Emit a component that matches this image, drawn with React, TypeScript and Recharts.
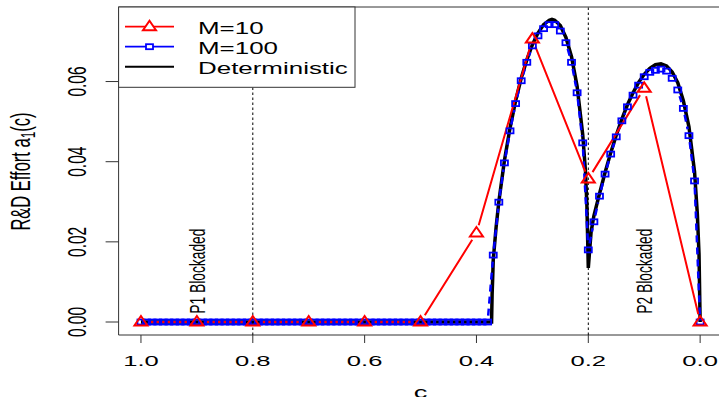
import React from 'react';
import { LineChart, Line, XAxis, YAxis, ReferenceLine, ReferenceArea, ReferenceDot } from 'recharts';

const FONT = '"Liberation Sans", Arial, Helvetica, sans-serif';
const SX = 1.65;

// ---- data ----
const c10 = [1.0, 0.9, 0.8, 0.7, 0.6, 0.5, 0.4, 0.3, 0.2, 0.1, 0.0];
const v10 = [0, 0, 0, 0, 0, 0, 0.0222, 0.0706, 0.0357, 0.0583, 0];

const c100 = [
  1.0, 0.99, 0.98, 0.97, 0.96, 0.95, 0.94, 0.93, 0.92, 0.91,
  0.9, 0.89, 0.88, 0.87, 0.86, 0.85, 0.84, 0.83, 0.82, 0.81,
  0.8, 0.79, 0.78, 0.77, 0.76, 0.75, 0.74, 0.73, 0.72, 0.71,
  0.7, 0.69, 0.68, 0.67, 0.66, 0.65, 0.64, 0.63, 0.62, 0.61,
  0.6, 0.59, 0.58, 0.57, 0.56, 0.55, 0.54, 0.53, 0.52, 0.51,
  0.5, 0.49, 0.48, 0.47, 0.46, 0.45, 0.44, 0.43, 0.42, 0.41,
  0.4, 0.39, 0.38, 0.37, 0.36, 0.35, 0.34, 0.33, 0.32, 0.31,
  0.3, 0.29, 0.28, 0.27, 0.26, 0.25, 0.24, 0.23, 0.22, 0.21,
  0.2, 0.19, 0.18, 0.17, 0.16, 0.15, 0.14, 0.13, 0.12, 0.11,
  0.1, 0.09, 0.08, 0.07, 0.06, 0.05, 0.04, 0.03, 0.02, 0.01,
  0.0,
];
const v100 = [
  0, 0, 0, 0, 0, 0, 0, 0, 0, 0,
  0, 0, 0, 0, 0, 0, 0, 0, 0, 0,
  0, 0, 0, 0, 0, 0, 0, 0, 0, 0,
  0, 0, 0, 0, 0, 0, 0, 0, 0, 0,
  0, 0, 0, 0, 0, 0, 0, 0, 0, 0,
  0, 0, 0, 0, 0, 0, 0, 0, 0, 0,
  0, 0, 0, 0.0167, 0.0299, 0.0397, 0.0477, 0.0545, 0.0602, 0.0648,
  0.0689, 0.0714, 0.0732, 0.0742, 0.0742, 0.0726, 0.0697, 0.0648, 0.0572, 0.0447,
  0.018, 0.025, 0.0314, 0.0369, 0.0419, 0.0462, 0.0502, 0.0537, 0.0566, 0.0591,
  0.0612, 0.0623, 0.0628, 0.0631, 0.0626, 0.0608, 0.0579, 0.0533, 0.0465, 0.0352,
  0,
];

const detC = [1.0, 0.373, 0.372, 0.371, 0.37, 0.365, 0.36, 0.35, 0.34, 0.33, 0.32, 0.31, 0.3, 0.29, 0.28, 0.27, 0.265, 0.26, 0.25, 0.24, 0.23, 0.22, 0.21, 0.205, 0.2025, 0.2, 0.195, 0.19, 0.18, 0.17, 0.16, 0.15, 0.14, 0.13, 0.12, 0.11, 0.1, 0.09, 0.08, 0.07, 0.06, 0.05, 0.04, 0.03, 0.02, 0.01, 0.005, 0.002, 0.0];
const detV = [0, 0, 0.007, 0.011, 0.0155, 0.0235, 0.03, 0.0403, 0.0484, 0.0552, 0.0608, 0.0654, 0.0692, 0.0721, 0.0742, 0.0753, 0.0755, 0.0753, 0.074, 0.071, 0.0662, 0.0588, 0.0468, 0.0375, 0.029, 0.0135, 0.0225, 0.0265, 0.032, 0.0373, 0.0422, 0.0466, 0.0506, 0.0542, 0.0572, 0.0598, 0.0618, 0.0633, 0.0642, 0.0644, 0.0639, 0.0624, 0.0597, 0.0552, 0.0487, 0.0375, 0.027, 0.017, 0];

const xTicks = [0, 0.2, 0.4, 0.6, 0.8, 1.0];
const yTicks = [0, 0.02, 0.04, 0.06];
const xDomain = [-0.04, 1.04];
const yDomain = [-0.00324, 0.0786];
const dividers = [0.8, 0.2];
const notes = [
  { c: 0.9, v: 0.0127, text: 'P1 Blockaded' },
  { c: 0.1, v: 0.0127, text: 'P2 Blockaded' },
];
const legendItems = [
  { label: 'M=10', color: '#FF0000', marker: 'tri' },
  { label: 'M=100', color: '#0000FF', marker: 'sq' },
  { label: 'Deterministic', color: '#000000', marker: 'none' },
];

const d10 = c10.map((c, i) => ({ c, v: v10[i] }));
const d100 = c100.map((c, i) => ({ c, v: v100[i] }));
const dDet = detC.map((c, i) => ({ c, v: detV[i] }));

const W = 740;
const H = 397;
const PLOT = { left: 118.6, right: 722.5, top: 7, bottom: 335 };

// Dash pattern reproducing R's type="b" (lines broken around each point).
// Uses the same linear geometry as the chart's plot area to measure segment lengths.
function gappedDash(cs: number[], vs: number[], gap: number, on: number, off: number) {
  const kx = (PLOT.right - PLOT.left) / (xDomain[1] - xDomain[0]);
  const ky = (PLOT.bottom - PLOT.top) / (yDomain[1] - yDomain[0]);
  const out: number[] = [0];
  let gapAcc = 0;
  for (let i = 0; i < cs.length - 1; i++) {
    const dx = (cs[i + 1] - cs[i]) * kx;
    const dy = (vs[i + 1] - vs[i]) * ky;
    const L = Math.sqrt(dx * dx + dy * dy);
    if (L <= 2 * gap) {
      gapAcc += L;
      continue;
    }
    gapAcc += gap;
    let rem = L - 2 * gap;
    while (rem > 0) {
      const d = Math.min(on, rem);
      out.push(gapAcc, d);
      rem -= d;
      gapAcc = 0;
      if (rem > 0) {
        const o = Math.min(off, rem);
        gapAcc = o;
        rem -= o;
      }
    }
    gapAcc += gap;
  }
  out.push(gapAcc + 5000);
  if (out.length % 2 === 1) out.push(0);
  return out.map((n) => n.toFixed(2)).join(' ');
}

const dash10 = gappedDash(c10, v10, 8, 100000, 0);
const dash100 = gappedDash(c100, v100, 6.5, 7, 5);

const triPath = (cx: number, cy: number) =>
  `M${cx},${cy - 6} L${cx + 6.5},${cy + 3.5} L${cx - 6.5},${cy + 3.5} Z`;

const renderTri = (p: any) => (
  <path key={`t${p.index}`} d={triPath(p.cx, p.cy)} fill="none" stroke="#FF0000" strokeWidth={2} strokeDasharray="none" />
);
const renderSq = (p: any) => (
  <rect key={`s${p.index}`} x={p.cx - 3.5} y={p.cy - 2.5} width={7} height={5} fill="none" stroke="#0000FF" strokeWidth={1.8} strokeDasharray="none" />
);

const XTick = (p: any) => (
  <text
    transform={`translate(${p.x},${p.y + 21}) scale(${SX},1)`}
    textAnchor="middle"
    fontFamily={FONT}
    fontSize={15.5}
    fill="#000"
  >
    {Number(p.payload.value).toFixed(1)}
  </text>
);

const YTick = (p: any) => (
  <text
    transform={`translate(${p.x - 26.5},${p.y}) scale(${SX},1) rotate(-90)`}
    textAnchor="middle"
    dy="0.36em"
    fontFamily={FONT}
    fontSize={15.5}
    fill="#000"
  >
    {Number(p.payload.value).toFixed(2)}
  </text>
);

const noteShape = (text: string) => (p: any) => (
  <text
    transform={`translate(${p.cx},${p.cy}) scale(${SX},1) rotate(-90)`}
    textAnchor="middle"
    dy="0.36em"
    fontFamily={FONT}
    fontSize={13.8}
    fill="#000"
  >
    {text}
  </text>
);

export default function App() {
  return (
    <div style={{ position: 'absolute', left: 0, top: 0, width: 719, height: 397, overflow: 'hidden', background: '#fff' }}>
      <LineChart width={W} height={H} margin={{ top: PLOT.top, right: W - PLOT.right, left: 0, bottom: 0 }}>
        <XAxis
          type="number"
          dataKey="c"
          domain={xDomain}
          reversed
          allowDataOverflow
          ticks={xTicks}
          interval={0}
          height={H - PLOT.bottom}
          tickSize={8}
          axisLine={false}
          tickLine={{ stroke: '#333', strokeWidth: 1 }}
          tick={XTick}
        />
        <YAxis
          type="number"
          dataKey="v"
          domain={yDomain}
          allowDataOverflow
          ticks={yTicks}
          interval={0}
          width={PLOT.left}
          tickSize={13}
          axisLine={false}
          tickLine={{ stroke: '#333', strokeWidth: 1 }}
          tick={YTick}
        />
        <ReferenceArea x1={xDomain[0]} x2={xDomain[1]} y1={yDomain[0]} y2={yDomain[1]} fill="none" fillOpacity={0} stroke="#333" strokeWidth={1} ifOverflow="visible" />
        {dividers.map((x) => (
          <ReferenceLine key={x} x={x} stroke="#000" strokeWidth={1} strokeDasharray="2.5 2.5" />
        ))}
        {notes.map((n) => (
          <ReferenceDot key={n.text} x={n.c} y={n.v} r={0} shape={noteShape(n.text)} ifOverflow="visible" />
        ))}
        <Line data={dDet} dataKey="v" type="linear" stroke="#000" strokeWidth={3.5} dot={false} isAnimationActive={false} />
        <Line data={d100} dataKey="v" type="linear" stroke="#0000FF" strokeWidth={2.5} strokeDasharray={dash100} dot={renderSq} isAnimationActive={false} />
        <Line data={d10} dataKey="v" type="linear" stroke="#FF0000" strokeWidth={2} strokeDasharray={dash10} dot={renderTri} isAnimationActive={false} />
      </LineChart>
      <svg width={719} height={397} style={{ position: 'absolute', left: 0, top: 0, pointerEvents: 'none' }}>
        <text
          transform={`translate(20,171.5) scale(${SX},1) rotate(-90)`}
          textAnchor="middle"
          dy="0.36em"
          fontFamily={FONT}
          fontSize={16.5}
          fill="#000"
        >
          <tspan>R&amp;D Effort a</tspan>
          <tspan dy="3" fontSize={12}>1</tspan>
          <tspan dy="-3">(c)</tspan>
        </text>
        <text transform={`translate(420.5,398) scale(${SX},1)`} textAnchor="middle" fontFamily={FONT} fontSize={16.5} fill="#000">
          c
        </text>
        <rect x={PLOT.left} y={PLOT.top} width={236.4} height={80.3} fill="#fff" stroke="#333" strokeWidth={1} />
        {legendItems.map((it, i) => {
          const y = 26.7 + i * 20;
          return (
            <g key={it.label}>
              <line x1={125} x2={174} y1={y} y2={y} stroke={it.color} strokeWidth={it.marker === 'none' ? 2 : 1.8} />
              {it.marker === 'tri' && <path d={triPath(149.5, y)} fill="#fff" stroke={it.color} strokeWidth={2} />}
              {it.marker === 'sq' && <rect x={146} y={y - 2.5} width={7} height={5} fill="#fff" stroke={it.color} strokeWidth={1.8} />}
              <text transform={`translate(198,${y + 6.8}) scale(1.6,1)`} fontFamily={FONT} fontSize={16.2} fill="#000">
                {it.label}
              </text>
            </g>
          );
        })}
      </svg>
    </div>
  );
}
